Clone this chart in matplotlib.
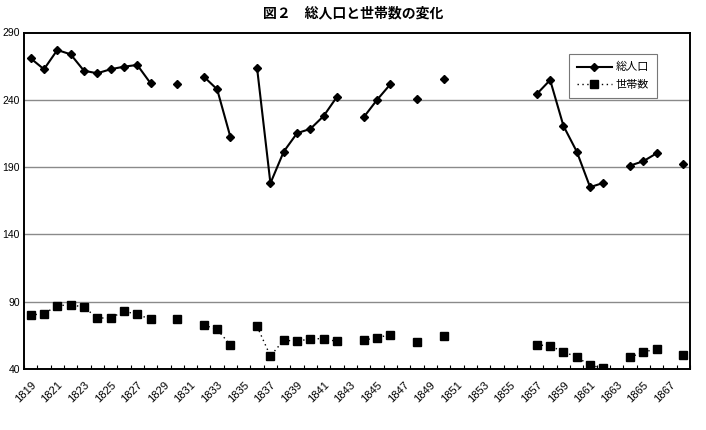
import numpy as np
import matplotlib
matplotlib.use("Agg")
import matplotlib.pyplot as plt
from matplotlib.ticker import FixedLocator

plt.rcParams['font.family'] = ['Noto Sans CJK JP', 'DejaVu Sans']

nan = np.nan
years = list(range(1819, 1869))

population = [
    270.8, 262.7, 277.0, 273.8, 261.6, 259.7, 262.7, 264.6, 265.9, 252.3,  # 1819-1828
    nan, 251.5, nan, 257.2, 247.8, 212.2, nan, 263.4, 178.0, 201.5,         # 1829-1838
    215.2, 218.4, 228.0, 242.3, nan, 227.0, 239.9, 251.5, nan, 240.9,       # 1839-1848
    nan, 255.7, nan, nan, nan, nan, nan, nan, 244.3, 254.7,                 # 1849-1858
    220.6, 201.5, 175.1, 178.3, nan, 191.1, 194.4, 200.3, nan, 192.1,       # 1859-1868
]

households = [
    80.1, 81.1, 87.0, 87.7, 86.0, 77.9, 77.9, 82.8, 80.8, 76.8,             # 1819-1828
    nan, 76.8, nan, 72.7, 69.4, 57.8, nan, 71.6, 49.6, 61.5,                # 1829-1838
    60.5, 62.5, 62.5, 60.5, nan, 61.5, 63.2, 65.5, nan, 60.3,               # 1839-1848
    nan, 64.2, nan, nan, nan, nan, nan, nan, 58.0, 57.1,                    # 1849-1858
    52.8, 48.9, 42.7, 40.7, nan, 48.6, 52.8, 54.6, nan, 50.6,               # 1859-1868
]

title = "図２　総人口と世帯数の変化"
series_names = ["総人口", "世帯数"]
yticks = [40, 90, 140, 190, 240, 290]

fig = plt.figure(figsize=(7.06, 4.30), dpi=100)
ax = fig.add_axes([24/706, 1 - 369/430, (690-24)/706, (369-32.5)/430])

x = np.arange(len(years))
ax.plot(x, population, color='black', lw=1.5, marker='D', ms=4.5,
        label=series_names[0], zorder=3)
ax.plot(x, households, color='black', lw=1.0, ls=(0, (1, 2.5)), marker='s', ms=6,
        label=series_names[1], zorder=3)

ax.set_xlim(-0.5, len(years) - 0.5)
ax.set_ylim(40, 290)
ax.set_yticks(yticks)
ax.set_yticklabels([str(v) for v in yticks], fontsize=7.5, family=['Liberation Sans', 'DejaVu Sans'])
for v in yticks[1:-1]:
    ax.axhline(v, color='#8a8a8a', lw=1.0, zorder=1)

ax.set_xticks(x[::2])
ax.set_xticklabels([str(y) for y in years[::2]], rotation=45, ha='right',
                   rotation_mode='anchor', fontsize=8,
                   family=['Liberation Sans', 'DejaVu Sans'])
ax.tick_params(axis='x', which='major', length=0, pad=8)
ax.xaxis.set_minor_locator(FixedLocator(np.arange(-0.5, len(years), 1)))
ax.tick_params(axis='x', which='minor', length=3, width=0.8, direction='in')
ax.tick_params(axis='y', length=0, pad=3)

for s in ax.spines.values():
    s.set_linewidth(1.4)
    s.set_color('black')

leg = ax.legend(loc='upper right', bbox_to_anchor=(0.95, 0.935), borderaxespad=0,
                fontsize=8, frameon=True, fancybox=False, edgecolor='#555555',
                handlelength=3.2, handletextpad=0.3, borderpad=0.7, labelspacing=0.7)
leg.get_frame().set_linewidth(0.8)

fig.text(353/706, 1 - 13/430, title, ha='center', va='center', fontsize=10,
         fontweight='bold')

fig.savefig("out.png", dpi=100)
